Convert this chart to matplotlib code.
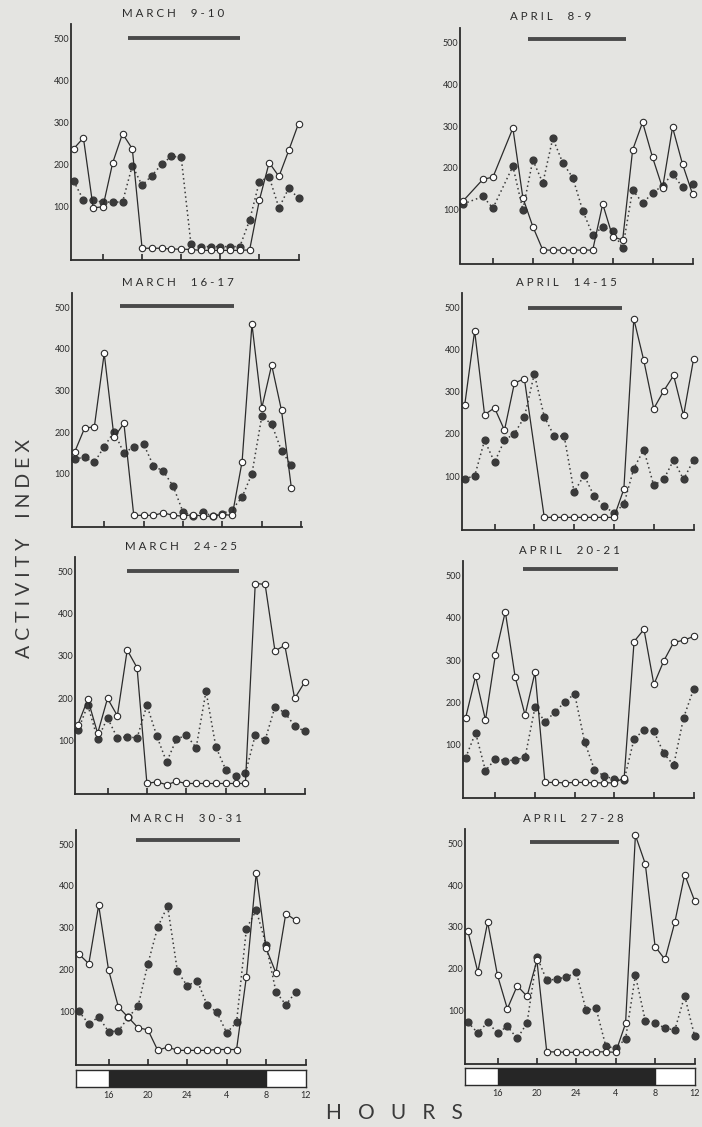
import numpy as np
import matplotlib
matplotlib.use("Agg")
import matplotlib.pyplot as plt

plt.rcParams['font.family'] = ['Lato', 'DejaVu Sans']

# ---------------- data ----------------
titles = ["MARCH 9-10", "APRIL 8-9", "MARCH 16-17", "APRIL 14-15",
          "MARCH 24-25", "APRIL 20-21", "MARCH 30-31", "APRIL 27-28"]

# March 9-10
mar09_hours = list(range(13, 37))
mar09_open = [237, 263, 96, 99, 204, 273, 237, 0, 0, 0, -2, -2, -3, -5, -5, -5,
              -5, -5, -4, 115, 204, 171, 233, 297]
mar09_closed_hours = list(range(13, 37))
mar09_closed = [160, 115, 114, 110, 110, 110, 197, 150, 173, 200, 219, 217, 10, 4,
                4, 4, 4, 4, 67, 159, 170, 96, 143, 119]
mar09_bar = [18.6, 30.0, 501]

# April 8-9
apr08_hours = [13, 15, 16, 18, 19, 20, 21, 22, 23, 24, 25, 26, 27, 28, 29, 30,
               31, 32, 33, 34, 35, 36]
apr08_open = [121, 173, 178, 295, 129, 60, 4, 4, 4, 4, 4, 4, 114, 36, 28, 243,
              309, 225, 152, 297, 209, 138]
apr08_closed_hours = [13, 15, 16, 18, 19, 20, 21, 22, 23, 24, 25, 26, 27, 28, 29,
                      30, 31, 32, 33, 34, 35, 36]
apr08_closed = [114, 132, 104, 204, 100, 219, 164, 271, 212, 177, 98, 40, 59, 50,
                8, 148, 116, 140, 158, 186, 154, 162]
apr08_bar = [19.5, 29.3, 508]

# March 16-17
mar16_hours = list(range(13, 36))
mar16_open = [152, 209, 213, 389, 187, 221, 0, 0, 0, 6, 0, -2, 2, -2, -2, 2, 0,
              129, 459, 258, 361, 252, 66]
mar16_closed_hours = list(range(13, 36))
mar16_closed = [136, 139, 127, 165, 201, 149, 165, 171, 119, 106, 70, 8, -2, 8,
                -2, 4, 14, 44, 100, 238, 219, 155, 120]
mar16_bar = [17.6, 29.2, 502]

# April 14-15
apr14_hours = [13, 14, 15, 16, 17, 18, 19, 21, 22, 23, 24, 25, 26, 27, 28, 29,
               30, 31, 32, 33, 34, 35, 36]
apr14_open = [268, 445, 246, 262, 209, 321, 331, 2, 2, 2, 2, 2, 2, 2, 2, 69,
              473, 375, 260, 302, 339, 244, 377]
apr14_closed_hours = list(range(13, 37))
apr14_closed = [94, 100, 185, 133, 185, 201, 240, 343, 241, 195, 195, 62, 102,
                53, 29, 12, 33, 118, 163, 78, 92, 138, 92, 138]
apr14_bar = [19.4, 28.8, 498]

# March 24-25
mar24_hours = list(range(13, 37))
mar24_open = [137, 197, 116, 199, 158, 314, 272, -3, 1, -6, 2, -3, -3, -3, -3,
              -3, -3, -3, 472, 470, 312, 325, 199, 237]
mar24_closed_hours = list(range(13, 37))
mar24_closed = [123, 183, 102, 153, 105, 108, 105, 183, 110, 48, 102, 112, 82,
                216, 84, 30, 15, 21, 112, 100, 179, 165, 134, 121]
mar24_bar = [18.0, 29.3, 502]

# April 20-21
apr20_hours = list(range(13, 37))
apr20_open = [163, 261, 157, 312, 415, 259, 169, 271, 9, 9, 8, 9, 9, 8, 8, 8,
              20, 344, 373, 242, 298, 342, 347, 356]
apr20_closed_hours = list(range(13, 37))
apr20_closed = [68, 127, 37, 65, 61, 62, 69, 188, 153, 176, 200, 220, 106, 39,
                24, 17, 15, 113, 133, 131, 78, 50, 163, 230]
apr20_bar = [18.8, 28.4, 517]

# March 30-31
mar30_hours = list(range(13, 36))
mar30_open = [237, 214, 354, 200, 111, 86, 61, 56, 7, 15, 7, 7, 7, 7, 9, 9, 9,
              183, 432, 251, 192, 334, 318]
mar30_closed_hours = list(range(13, 36))
mar30_closed = [100, 70, 87, 52, 53, 86, 112, 214, 302, 352, 196, 161, 174, 116,
                98, 49, 74, 298, 342, 259, 147, 116, 146]
mar30_bar = [18.8, 29.3, 510]

# April 27-28
apr27_hours = list(range(13, 37))
apr27_open = [289, 192, 311, 184, 104, 159, 134, 220, 1, 1, 0, 0, 0, 1, 1, 0,
              69, 519, 451, 253, 222, 311, 425, 363]
apr27_closed_hours = list(range(13, 37))
apr27_closed = [72, 46, 72, 46, 62, 33, 70, 229, 172, 175, 180, 191, 100, 106,
                14, 10, 32, 184, 76, 70, 58, 53, 135, 40]
apr27_bar = [19.3, 28.3, 504]

yticks = [100, 200, 300, 400, 500]
xticks = [16, 20, 24, 28, 32, 36]
xtick_labels = ["16", "20", "24", "4", "8", "12"]
dark_start, dark_end = 16, 32

panels = [
    (mar09_hours, mar09_open, mar09_closed_hours, mar09_closed, mar09_bar),
    (apr08_hours, apr08_open, apr08_closed_hours, apr08_closed, apr08_bar),
    (mar16_hours, mar16_open, mar16_closed_hours, mar16_closed, mar16_bar),
    (apr14_hours, apr14_open, apr14_closed_hours, apr14_closed, apr14_bar),
    (mar24_hours, mar24_open, mar24_closed_hours, mar24_closed, mar24_bar),
    (apr20_hours, apr20_open, apr20_closed_hours, apr20_closed, apr20_bar),
    (mar30_hours, mar30_open, mar30_closed_hours, mar30_closed, mar30_bar),
    (apr27_hours, apr27_open, apr27_closed_hours, apr27_closed, apr27_bar),
]

# ---------------- layout (pixels) ----------------
W, H = 702, 1127
BG = "#e4e4e1"
INK = "#2b2b2b"
XLIM = (12.7, 36.05)
YLIM = (-28, 535)
boxes = [  # left, right, top, bottom in pixels
    (70.7, 299, 23.7, 260),
    (460, 693, 27.6, 263.5),
    (71.7, 301.7, 292.6, 527),
    (461.7, 694, 292.9, 530),
    (75, 305, 557, 794),
    (462.7, 694, 561.2, 798),
    (76, 306, 829.5, 1065),
    (465, 695, 828.6, 1064),
]
title_xfrac = [0.45, 0.39, 0.46, 0.45, 0.46, 0.46, 0.48, 0.47]


def spaced(s, gap=4):
    words = s.split(" ")
    return (" " * gap).join(" ".join(w) for w in words)


def frac_box(l, r, t, b):
    return [l / W, 1 - b / H, (r - l) / W, (b - t) / H]


fig = plt.figure(figsize=(W / 100, H / 100), dpi=100)
fig.patch.set_facecolor(BG)

for i, (hrs, op, chrs, cl, bar) in enumerate(panels):
    ax = fig.add_axes(frac_box(*boxes[i]))
    ax.set_facecolor(BG)
    ax.plot(chrs, cl, linestyle=(0, (1, 2)), color="#3a3a3a", lw=1.1,
            marker="o", ms=4.9, mfc="#3a3a3a", mec="#3a3a3a", clip_on=False,
            zorder=2)
    ax.plot(hrs, op, linestyle="-", color=INK, lw=0.9, marker="o", ms=4.6,
            mfc="white", mec=INK, mew=0.8, clip_on=False, zorder=3)
    ax.plot([bar[0], bar[1]], [bar[2], bar[2]], color="#4a4a4a", lw=2.8,
            solid_capstyle="butt", zorder=1)
    ax.set_xlim(*XLIM)
    ax.set_ylim(*YLIM)
    for s in ["top", "right"]:
        ax.spines[s].set_visible(False)
    for s in ["left", "bottom"]:
        ax.spines[s].set_linewidth(1.3)
        ax.spines[s].set_color(INK)
    ax.set_yticks(yticks)
    ax.set_yticklabels([str(v) for v in yticks], fontsize=6.5, color=INK)
    ax.tick_params(axis="y", length=0, pad=1)
    ax.set_xticks(xticks)
    ax.set_xticklabels([])
    ax.tick_params(axis="x", direction="in", length=4, width=1.2, color=INK)
    ax.text(title_xfrac[i], 1.045, spaced(titles[i], gap=5),
            transform=ax.transAxes, ha="center", va="center", fontsize=8.3,
            color=INK)

# light/dark bars under the bottom row
for (l, r), (t, b) in [((76, 306), (1070, 1087)), ((465, 695), (1068, 1085))]:
    bx = fig.add_axes(frac_box(l, r, t, b))
    bx.set_facecolor("white")
    bx.axvspan(dark_start, dark_end, color="#262626")
    bx.set_xlim(*XLIM)
    bx.set_ylim(0, 1)
    bx.set_yticks([])
    bx.set_xticks(xticks)
    bx.set_xticklabels(xtick_labels, fontsize=6.5, color=INK)
    bx.tick_params(axis="x", length=0, pad=3)
    for s in bx.spines.values():
        s.set_linewidth(1.0)
        s.set_color(INK)

fig.text(25 / W, 1 - 548 / H, spaced("ACTIVITY INDEX", gap=4), rotation=90,
         ha="center", va="center", fontsize=14, color="#3a3a3a")
fig.text(394 / W, 1 - 1113 / H, "H   O   U   R   S", ha="center", va="center",
         fontsize=15, color="#3a3a3a")

fig.savefig("out.png", dpi=100, facecolor=BG)
